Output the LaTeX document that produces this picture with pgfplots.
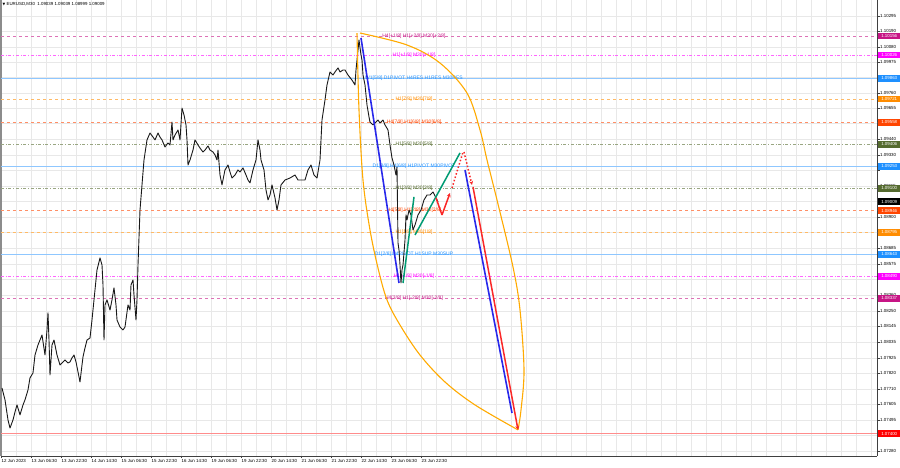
\documentclass[border=0pt]{standalone}
\usepackage{fontspec}
\setmainfont{Liberation Sans}
\newfontfamily\dejavu{DejaVu Sans}
\usepackage{pgfplots}
\pgfplotsset{compat=1.18}
\usetikzlibrary{arrows.meta}

\definecolor{mmpink}{RGB}{199,21,133}
\definecolor{mmmag}{RGB}{255,0,255}
\definecolor{mmblue}{RGB}{30,144,255}
\definecolor{mmorange}{RGB}{255,140,0}
\definecolor{mmred}{RGB}{255,69,0}
\definecolor{mmolive}{RGB}{85,107,47}
\definecolor{fcblue}{RGB}{40,40,235}
\definecolor{fcgreen}{RGB}{0,155,115}
\definecolor{fcred}{RGB}{250,40,40}
\definecolor{fcorange}{RGB}{255,170,0}

\newcommand{\tf}{\fontsize{4.4}{5}\selectfont}
\newcommand{\lf}{\fontsize{5}{6}\selectfont}

% one level: price, colour, line style, text
\newcommand{\lvl}[4]{%
  \addplot[#3, line width=0.5pt] coordinates {(1,#1) (877,#1)};
  \node[text=#2, font=\lf, inner sep=0pt] at (axis cs:414,#1) {#4};
}
\newcommand{\pbox}[2]{%
  \node[fill=#1, text=white, font=\tf, inner sep=0pt, minimum height=6.5pt,
        minimum width=22pt, anchor=west] at (axis cs:878,#2) {#2};
}

\begin{document}
\begin{tikzpicture}
\begin{axis}[
  scale only axis, width=876pt, height=456pt,
  xmin=1, xmax=877, ymin=1.07245, ymax=1.10406,
  axis x line*=bottom, axis y line*=right,
  axis line style={black!75, line width=0.5pt},
  xtick={1,31,...,421},
  xticklabels={12 Jun 2023,13 Jun 06:30,13 Jun 22:30,14 Jun 14:30,15 Jun 06:30,15 Jun 22:30,16 Jun 14:30,19 Jun 06:30,19 Jun 22:30,20 Jun 14:30,21 Jun 06:30,21 Jun 22:30,22 Jun 14:30,23 Jun 06:30,23 Jun 22:30},
  minor xtick={16,31,...,871},
  ytick={1.10295,1.10190,1.10080,1.09975,1.09870,1.09760,1.09655,1.09550,1.09440,1.09330,1.09225,1.09115,1.09010,1.08900,1.08795,1.08685,1.08575,1.08470,1.08360,1.08250,1.08145,1.08035,1.07925,1.07820,1.07710,1.07605,1.07495,1.07390,1.07280},
  yticklabels={1.10295,1.10190,1.10080,1.09975,,1.09760,1.09655,,1.09440,1.09330,,1.09115,,1.08900,,1.08685,1.08575,,1.08360,1.08250,1.08145,1.08035,1.07925,1.07820,1.07710,1.07605,1.07495,1.07390,1.07280},
  scaled y ticks=false,
  yticklabel style={font=\tf, anchor=west, inner sep=0.5pt},
  xticklabel style={font=\tf, anchor=north west, inner sep=0.5pt},
  tick style={black!75, line width=0.4pt},
  major tick length=2.5pt, minor tick length=0pt,
  tick align=outside,
  grid=both,
  major grid style={black!9, line width=0.5pt},
  minor grid style={black!9, line width=0.5pt},
  clip=false,
]

% window border on the left
\draw[black!45, line width=1.5pt] (axis cs:1,1.07245) -- (axis cs:1,1.10406);

% Murrey / pivot levels
\lvl{1.10156}{mmpink}{mmpink!60, dashed}{H4[+1/8] H1[+2/8] M30[+2/8]}
\lvl{1.10026}{mmmag}{mmmag!60, dash dot}{H1[+1/8] M30[+1/8]}
\lvl{1.09863}{mmblue}{mmblue!50}{W1[5/8] D1PIVOT H4RES H1RES M30RES}
\lvl{1.09721}{mmorange}{mmorange!60, dashed}{H1[7/8] M30[7/8]}
\lvl{1.09558}{mmred}{mmred!60, dashed}{H4[7/8] H1[6/8] M30[6/8]}
\lvl{1.09406}{mmolive}{mmolive!60, dash dot}{H1[5/8] M30[5/8]}
\lvl{1.09253}{mmblue}{mmblue!50}{D1[3/8] H4[6/8] H1PIVOT M30PIVOT}
\lvl{1.09100}{mmolive}{mmolive!60, dash dot}{H1[3/8] M30[3/8]}
\lvl{1.08946}{mmred}{mmred!60, dashed}{H4[5/8] H1[2/8] M30[2/8]}
\lvl{1.08795}{mmorange}{mmorange!60, dashed}{H1[1/8] M30[1/8]}
\lvl{1.08643}{mmblue}{mmblue!50}{D1[2/8] H4PIVOT H1SUP M30SUP}
\lvl{1.08490}{mmmag}{mmmag!60, dash dot}{H1[-1/8] M30[-1/8]}
\lvl{1.08337}{mmpink}{mmpink!60, dashed}{H4[3/8] H1[-2/8] M30[-2/8]}
\addplot[red!45, line width=0.5pt] coordinates {(1,1.07400) (877,1.07400)};

% EURUSD M30 price path
\addplot[black!90, line width=0.9pt, line join=round] coordinates {
(2,1.07717) (3,1.07689) (5,1.07634) (8,1.07495) (10,1.07439) (13,1.07495)
(15,1.07550) (17,1.07599) (20,1.07530) (23,1.07599) (25,1.07634) (28,1.07703)
(30,1.07786) (33,1.07821) (35,1.07945) (38,1.08015) (40,1.08049) (42,1.08084)
(45,1.07945) (47,1.08119) (48,1.08237) (49,1.08049) (50,1.07807) (52,1.08015)
(54,1.08049) (57,1.07945) (60,1.07876) (63,1.07897) (65,1.07911) (68,1.07890)
(70,1.07897) (72,1.07925) (74,1.07945) (76,1.07897) (78,1.07828) (80,1.07758)
(82,1.07876) (83,1.07932) (85,1.07994) (87,1.08049) (90,1.08063) (92,1.08188)
(94,1.08327) (97,1.08535) (99,1.08590) (100,1.08618) (102,1.08569) (103,1.08431)
(104,1.08049) (105,1.08292) (107,1.08327) (110,1.08257) (112,1.08327) (114,1.08410)
(116,1.08292) (117,1.08188) (120,1.08139) (123,1.08119) (125,1.08139) (128,1.08292)
(130,1.08257) (131,1.08431) (133,1.08465) (134,1.08361) (136,1.08188) (137,1.08327)
(138,1.08569) (140,1.08950) (142,1.09124) (144,1.09297) (147,1.09436) (150,1.09484)
(153,1.09456) (155,1.09436) (158,1.09484) (160,1.09456) (162,1.09436) (165,1.09387)
(168,1.09415) (170,1.09401) (172,1.09560) (173,1.09436) (175,1.09470) (178,1.09505)
(180,1.09436) (182,1.09657) (184,1.09609) (186,1.09540) (187,1.09436) (188,1.09262)
(190,1.09297) (193,1.09366) (195,1.09436) (198,1.09401) (200,1.09380) (203,1.09352)
(205,1.09366) (208,1.09394) (210,1.09366) (213,1.09352) (215,1.09332) (217,1.09297)
(218,1.09366) (220,1.09193) (222,1.09124) (225,1.09228) (228,1.09262) (230,1.09214)
(232,1.09172) (235,1.09193) (238,1.09228) (240,1.09214) (243,1.09242) (246,1.09193)
(248,1.09158) (250,1.09138) (253,1.09228) (256,1.09297) (258,1.09436) (260,1.09366)
(261,1.09297) (264,1.09228) (266,1.09089) (268,1.09020) (270,1.09054) (272,1.09124)
(275,1.09034) (277,1.08950) (279,1.09020) (281,1.09124) (285,1.09158) (290,1.09172)
(295,1.09193) (298,1.09158) (300,1.09158) (305,1.09158) (308,1.09228) (311,1.09262)
(314,1.09193) (317,1.09172) (320,1.09297) (322,1.09574) (325,1.09713) (327,1.09817)
(330,1.09907) (333,1.09886) (335,1.09907) (338,1.09935) (340,1.09907) (343,1.09921)
(345,1.09921) (348,1.09886) (352,1.09851) (355,1.09817) (356,1.09921) (358,1.10059)
(359,1.10129) (361,1.10025) (362,1.09990) (363,1.09886) (365,1.09817) (367,1.09678)
(369,1.09595) (370,1.09560) (373,1.09540) (376,1.09560) (378,1.09574) (380,1.09553)
(383,1.09574) (385,1.09540) (388,1.09505) (390,1.09401) (392,1.09311) (394,1.09262)
(396,1.09193) (397,1.09248) (398,1.08722) (399,1.08673) (400,1.08569) (401,1.08444)
(402,1.08535) (403,1.08569) (405,1.08742) (406,1.08916) (407,1.08881) (409,1.08950)
(411,1.08916) (413,1.08812) (415,1.08846) (418,1.08916) (421,1.08950) (424,1.09020)
(427,1.09054) (430,1.09054) (433,1.09075) (436,1.09034) (438,1.09006)
};

% orange forecast arcs
\addplot[fcorange, line width=1.1pt, smooth, tension=0.55] coordinates {
(357,1.10177) (359,1.09644) (363,1.09158) (370,1.08812) (378,1.08548) (387,1.08327)
(400,1.08153) (420,1.07945) (445,1.07758) (475,1.07599) (518,1.07426)};
\addplot[fcorange, line width=1.1pt, smooth, tension=0.55] coordinates {
(360,1.10177) (407,1.10094) (440,1.09969) (467,1.09761) (480,1.09505) (487,1.09297)
(497,1.09020) (513,1.08555) (520,1.08257) (524,1.07841) (521,1.07564) (518,1.07426)};

% blue waves
\addplot[fcblue, line width=1.6pt] coordinates {(361,1.10143) (399,1.08444)};
\addplot[fcblue, line width=1.6pt] coordinates {(465,1.09228) (512,1.07543)};
% green waves
\addplot[fcgreen, line width=1.5pt] coordinates {(403,1.08444) (414,1.09041)};
\addplot[fcgreen, line width=1.5pt] coordinates {(415,1.08777) (460,1.09346)};
% red projection
\addplot[fcred, line width=1.5pt] coordinates {(436,1.09034) (442,1.08916)};
\addplot[fcred, line width=1.5pt, -{Stealth[length=4pt,width=4pt]}] coordinates {(442,1.08916) (450,1.09068)};
\addplot[fcred, line width=1.5pt, dotted] coordinates {(452,1.09103) (463,1.09352)};
\addplot[fcred, line width=1.5pt, dotted, -{Stealth[length=4pt,width=4pt]}] coordinates {(464,1.09352) (472,1.09124)};
\addplot[fcred, line width=1.5pt, -{Stealth[length=4pt,width=4pt]}] coordinates {(473,1.09110) (518,1.07426)};

% price boxes on the scale
\pbox{mmpink}{1.10156}
\pbox{mmmag}{1.10026}
\pbox{mmblue}{1.09863}
\pbox{mmorange}{1.09721}
\pbox{mmred}{1.09558}
\pbox{mmolive}{1.09406}
\pbox{mmblue}{1.09253}
\pbox{mmolive}{1.09100}
\pbox{black}{1.09009}
\pbox{mmred}{1.08946}
\pbox{mmorange}{1.08795}
\pbox{mmblue}{1.08643}
\pbox{mmmag}{1.08490}
\pbox{mmpink}{1.08337}
\pbox{red}{1.07400}

% chart title
\node[anchor=north west, inner sep=0.5pt, font=\tf, yshift=-1.5pt] at (axis cs:2,1.10406)
  {{\dejavu\fontsize{3.5}{4}\selectfont ▼}\ EURUSD,M30\ \ 1.09039 1.09039 1.08999 1.09009};
\end{axis}
\pgfresetboundingbox
\path[use as bounding box] (-1pt,-12pt) rectangle (899pt,456pt);
\end{tikzpicture}
\end{document}
